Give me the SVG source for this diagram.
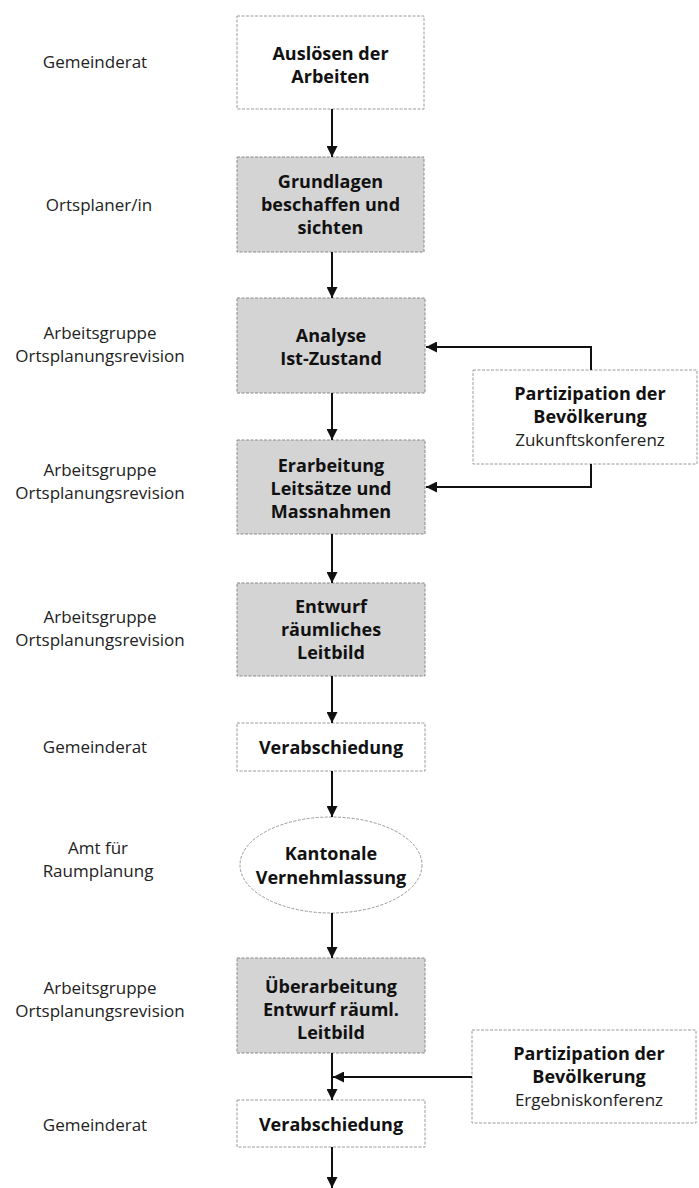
<svg xmlns="http://www.w3.org/2000/svg" width="699" height="1188" viewBox="0 0 699 1188">
<style>
.lbl{font-family:"Open Sans","Liberation Sans",sans-serif;font-size:17px;fill:#222;text-anchor:middle}
.bt{font-family:"Open Sans","Liberation Sans",sans-serif;font-size:18px;font-weight:bold;fill:#111;text-anchor:middle}
.rt{font-family:"Open Sans","Liberation Sans",sans-serif;font-size:17px;fill:#222;text-anchor:middle}
.wbox{fill:#fff;stroke:#9a9a9a;stroke-width:1;stroke-dasharray:3 1.5}
.gbox{fill:#d4d4d4;stroke:#8a8a8a;stroke-width:1;stroke-dasharray:3 1.5}
.con{fill:none;stroke:#111;stroke-width:2}
</style>
<defs>
<marker id="ah" viewBox="0 0 10 10" refX="10" refY="5" markerWidth="5.5" markerHeight="5.5" orient="auto" markerUnits="strokeWidth">
<path d="M0,0 L10,5 L0,10 Z" fill="#111"/>
</marker>
</defs>

<g id="roles">
<text class="lbl" x="95" y="68">Gemeinderat</text>
<text class="lbl" x="99" y="211">Ortsplaner/in</text>
<text class="lbl" x="100" y="339">Arbeitsgruppe</text>
<text class="lbl" x="100" y="362">Ortsplanungsrevision</text>
<text class="lbl" x="100" y="476">Arbeitsgruppe</text>
<text class="lbl" x="100" y="499">Ortsplanungsrevision</text>
<text class="lbl" x="100" y="623">Arbeitsgruppe</text>
<text class="lbl" x="100" y="646">Ortsplanungsrevision</text>
<text class="lbl" x="95" y="753">Gemeinderat</text>
<text class="lbl" x="98" y="854">Amt für</text>
<text class="lbl" x="98" y="877">Raumplanung</text>
<text class="lbl" x="100" y="994">Arbeitsgruppe</text>
<text class="lbl" x="100" y="1017">Ortsplanungsrevision</text>
<text class="lbl" x="95" y="1131">Gemeinderat</text>
</g>

<g id="n1">
<rect class="wbox" x="237" y="16" width="187" height="93"/>
<text class="bt" x="330.5" y="60">Auslösen der</text>
<text class="bt" x="330.5" y="83">Arbeiten</text>
</g>

<g id="n2">
<rect class="gbox" x="237" y="157" width="187" height="95"/>
<text class="bt" x="330.5" y="188">Grundlagen</text>
<text class="bt" x="330.5" y="211">beschaffen und</text>
<text class="bt" x="330.5" y="234">sichten</text>
</g>

<g id="n3">
<rect class="gbox" x="237" y="298" width="188" height="95"/>
<text class="bt" x="331" y="342">Analyse</text>
<text class="bt" x="331" y="365">Ist-Zustand</text>
</g>

<g id="n4">
<rect class="gbox" x="237" y="440" width="188" height="94"/>
<text class="bt" x="331" y="472">Erarbeitung</text>
<text class="bt" x="331" y="495">Leitsätze und</text>
<text class="bt" x="331" y="518">Massnahmen</text>
</g>

<g id="n5">
<rect class="gbox" x="237" y="583" width="188" height="93"/>
<text class="bt" x="331" y="613">Entwurf</text>
<text class="bt" x="331" y="636">räumliches</text>
<text class="bt" x="331" y="659">Leitbild</text>
</g>

<g id="n6">
<rect class="wbox" x="237" y="723" width="188" height="48"/>
<text class="bt" x="331" y="754">Verabschiedung</text>
</g>

<g id="n7">
<ellipse class="wbox" cx="331" cy="865" rx="91" ry="48"/>
<text class="bt" x="331" y="860">Kantonale</text>
<text class="bt" x="331" y="884">Vernehmlassung</text>
</g>

<g id="n8">
<rect class="gbox" x="237" y="958" width="188" height="95"/>
<text class="bt" x="331" y="993">Überarbeitung</text>
<text class="bt" x="331" y="1016">Entwurf räuml.</text>
<text class="bt" x="331" y="1039">Leitbild</text>
</g>

<g id="n9">
<rect class="wbox" x="237" y="1100" width="188" height="47"/>
<text class="bt" x="331" y="1131">Verabschiedung</text>
</g>

<g id="p1">
<rect class="wbox" x="473" y="370" width="224" height="94"/>
<text class="bt" x="590" y="400">Partizipation der</text>
<text class="bt" x="590" y="423">Bevölkerung</text>
<text class="rt" x="590" y="446">Zukunftskonferenz</text>
</g>

<g id="p2">
<rect class="wbox" x="472" y="1030" width="224" height="93"/>
<text class="bt" x="589" y="1060">Partizipation der</text>
<text class="bt" x="589" y="1083">Bevölkerung</text>
<text class="rt" x="589" y="1106">Ergebniskonferenz</text>
</g>

<g id="connectors">
<path class="con" d="M332,109 V157" marker-end="url(#ah)"/>
<path class="con" d="M332,252 V298" marker-end="url(#ah)"/>
<path class="con" d="M332,393 V440" marker-end="url(#ah)"/>
<path class="con" d="M332,534 V583" marker-end="url(#ah)"/>
<path class="con" d="M332,676 V723" marker-end="url(#ah)"/>
<path class="con" d="M332,771 V817" marker-end="url(#ah)"/>
<path class="con" d="M332,913 V958" marker-end="url(#ah)"/>
<path class="con" d="M332,1053 V1100" marker-end="url(#ah)"/>
<path class="con" d="M332,1147 V1188" marker-end="url(#ah)"/>
<path class="con" d="M591,370 V347 H426" marker-end="url(#ah)"/>
<path class="con" d="M591,464 V487 H426" marker-end="url(#ah)"/>
<path class="con" d="M472,1077 H333" marker-end="url(#ah)"/>
</g>
</svg>
